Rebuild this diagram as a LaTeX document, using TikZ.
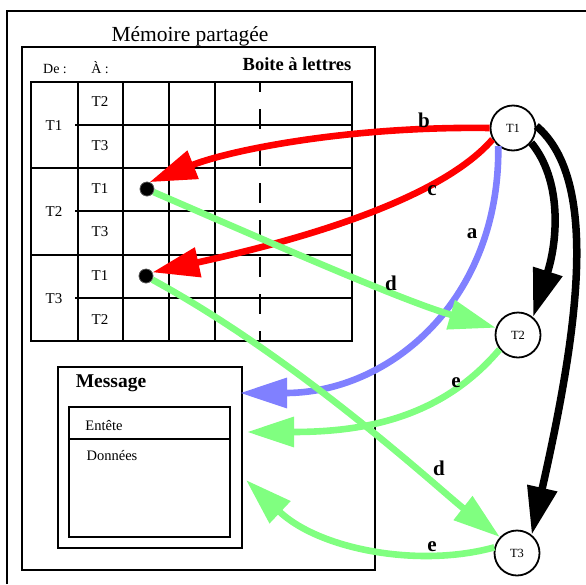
\documentclass[tikz,border=0pt]{standalone}
\usepackage{fontspec}
\setmainfont{Liberation Serif}
\usetikzlibrary{arrows.meta}
\definecolor{cred}{RGB}{255,0,0}
\definecolor{cblue}{RGB}{128,128,255}
\definecolor{cgreen}{RGB}{128,255,128}
\tikzset{
  frame/.style={line width=2pt},
  tab/.style={line width=2.5pt},
  txt/.style={inner sep=0pt, font=\fontsize{15}{17}\selectfont},
  proc/.style={circle, draw, line width=1.8pt, minimum size=45pt, inner sep=0pt, fill=white, font=\fontsize{12.5}{14}\selectfont},
  dot/.style={circle, fill=black, draw=black!60, line width=0.6pt, minimum size=14pt, inner sep=0pt},
  lab/.style={inner sep=0pt, font=\bfseries\fontsize{21}{23}\selectfont},
  arr/.style={line width=6.6pt, -{Triangle[length=47pt,width=29pt]}},
  blk/.style={line width=7.5pt, -{Triangle[length=48pt,width=29pt]}},
}
\begin{document}
\begin{tikzpicture}[x=1pt,y=-1pt]
\useasboundingbox (0,0) rectangle (586,584);
% outer frame
\draw[frame] (7,584) -- (7,11) -- (586,11);
% shared memory frame
\draw[frame] (22,47) rectangle (375,570);
\node[inner sep=0pt, anchor=base, font=\fontsize{21.5}{24}\selectfont] (title) at (190,41) {Mémoire partagée};
\node[inner sep=0pt, anchor=base, font=\bfseries\fontsize{18.5}{20}\selectfont] (boite) at (297,70) {Boite à lettres};
\node[inner sep=0pt, anchor=base, font=\fontsize{14}{15}\selectfont] (de) at (55,73) {De :};
\node[inner sep=0pt, anchor=base, font=\fontsize{14}{15}\selectfont] (a) at (100,73) {À :};
% table
\draw[tab] (31,82) rectangle (352,341);
\foreach \x in {78,123,169,215} \draw[tab] (\x,82) -- (\x,341);
\draw[tab, dash pattern=on 20pt off 17pt, dash phase=10pt] (260,82) -- (260,341);
\foreach \y in {168,255} \draw[tab] (31,\y) -- (352,\y);
\foreach \y in {125,211,298} \draw[tab] (75,\y) -- (352,\y);
\node[txt] (g1) at (54,126) {T1};
\node[txt] (g2) at (54,212) {T2};
\node[txt] (g3) at (54,299) {T3};
\node[txt] (r1) at (100,102) {T2};
\node[txt] (r2) at (100,146) {T3};
\node[txt] (r3) at (100,189) {T1};
\node[txt] (r4) at (100,232) {T3};
\node[txt] (r5) at (100,276) {T1};
\node[txt] (r6) at (100,320) {T2};
% message
\draw[frame] (58,367) rectangle (242,548);
\draw[frame] (69,407) rectangle (230,537);
\draw[frame] (69,439) -- (230,439);
\node[inner sep=0pt, anchor=base, font=\bfseries\fontsize{19.5}{21}\selectfont] (msg) at (111,387) {Message};
\node[inner sep=0pt, anchor=base, font=\fontsize{14.5}{16}\selectfont] (ent) at (104,430) {Entête};
\node[inner sep=0pt, anchor=base, font=\fontsize{14.5}{16}\selectfont] (don) at (112,460) {Données};
% tasks
\node[proc] (t1) at (513,128) {T1};
\node[proc] (t2) at (518,335) {T2};
\node[proc] (t3) at (517,553) {T3};
\node[dot] (p21) at (147,189) {};
\node[dot] (p31) at (146,276) {};
\coordinate (ma) at (240,393);
\coordinate (me1) at (247,432);
\coordinate (me2) at (246,480);
% arrows
\draw[arr, cred] (t1.180) .. controls (350,126) and (230,150) .. (p21.70);
\draw[arr, cred] (t1.-151) .. controls (440,200) and (300,240) .. (p31.30);
\draw[arr, cblue] (t1.-129) .. controls (500,300) and (390,393) .. (ma);
\draw[arr, cgreen] (p21.-25) .. controls (260,238) and (400,300) .. (t2.162);
\draw[arr, cgreen] (p31.-30) .. controls (300,360) and (440,490) .. (t3.137);
\draw[arr, cgreen] (t2.-142) .. controls (440,420) and (360,432) .. (me1);
\draw[arr, cgreen] (t3.166) .. controls (420,568) and (320,550) .. (me2);
\draw[blk] (t1.-39) .. controls (562,180) and (558,240) .. (t2.50);
\draw[blk] (t1.5) .. controls (600,180) and (578,330) .. (t3.51);
\node[dot] (p21b) at (p21) {};
\node[dot] (p31b) at (p31) {};
% labels
\node[lab] (lb) at (424,120) {b};
\node[lab] (lc) at (432,191) {c};
\node[lab] (la) at (472,234) {a};
\node[lab] (ld1) at (391,283) {d};
\node[lab] (le1) at (456,383) {e};
\node[lab] (ld2) at (439,468) {d};
\node[lab] (le2) at (432,547) {e};
\end{tikzpicture}
\end{document}
